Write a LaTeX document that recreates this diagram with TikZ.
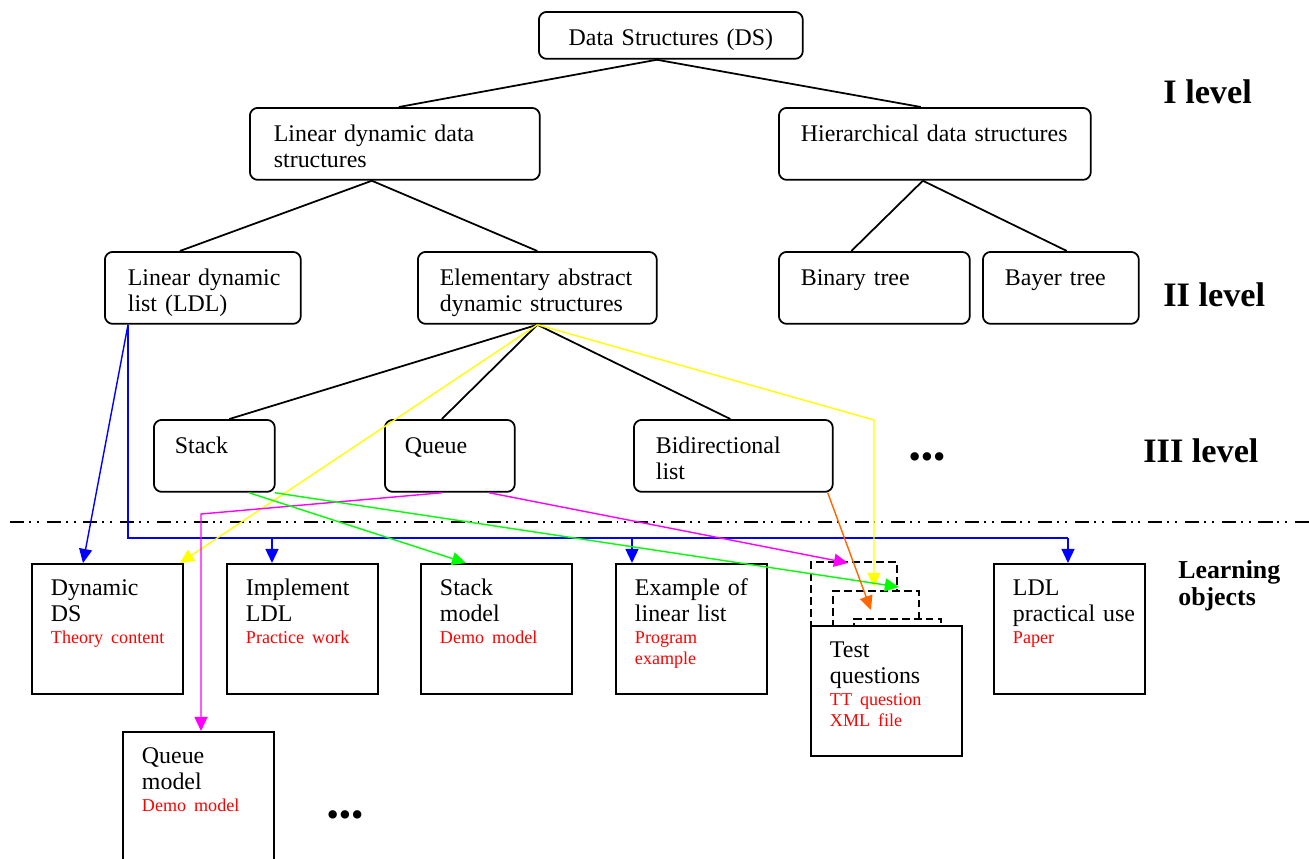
\documentclass[tikz,border=0pt]{standalone}
\usepackage{fontspec}
\setmainfont{Liberation Serif}
\usepackage{tikz}
\usetikzlibrary{arrows.meta,calc}

\definecolor{bleu}{RGB}{0,0,255}
\definecolor{jaune}{RGB}{255,255,0}
\definecolor{violet}{RGB}{255,0,255}
\definecolor{vert}{RGB}{0,255,0}
\definecolor{orangeline}{RGB}{255,102,0}
\definecolor{rouge}{RGB}{255,0,0}
\newcommand{\rouge}[1]{{\leavevmode\color{rouge}\fontsize{10.3}{12.2}\selectfont #1\par}}

\tikzset{
	theme/.style={rectangle,draw,line width=1pt,rounded corners=4.5pt,anchor=north west,inner ysep=0pt,align=left,text height=.67cm,text depth=.77cm,font=\fontsize{13.6}{14.8}\selectfont},
	objet/.style={rectangle,draw,line width=1.1pt,fill=white,anchor=north west,inner xsep=.38cm,inner ysep=0pt,align=left,text width=2.26cm,text height=.64cm,text depth=1.96cm,font=\fontsize{13.6}{14.8}\selectfont},
	page/.style={rectangle,draw,dash pattern=on 4.5pt off 2.3pt,line width=1.1pt,fill=white,anchor=north west,inner sep=0pt},
	niveau/.style={anchor=base west,inner sep=0pt,font=\fontsize{19.5}{22}\selectfont\bfseries},
	arbre/.style={line width=1pt},
	lien/.style={line width=.8pt,-{Triangle[length=8pt,width=7.4pt]}},
}

\begin{document}
\begin{tikzpicture}
	\begin{scope}[x=0.02cm,y=-0.02cm]
		\useasboundingbox (0,0) rectangle (1309,859);
		% noeuds des niveaux I, II, III
		\node (DS) at (538,11) [theme,align=center,inner xsep=0pt,text width=5.28cm,text height=.68cm,text depth=.26cm] {Data Structures (DS)};
		\node (LDDS) at (249,107) [theme,inner xsep=.48cm,text width=4.84cm] {Linear dynamic data\\structures};
		\node (HDS) at (778,107) [theme,inner xsep=.44cm,text width=5.36cm] {\mbox{Hierarchical data structures}};
		\node (LDL) at (104,251) [theme,inner xsep=.46cm,text width=3cm] {\mbox{Linear dynamic}\\list (LDL)};
		\node (EADS) at (417,251) [theme,inner xsep=.44cm,text width=3.9cm] {\mbox{Elementary abstract}\\dynamic structures};
		\node (BIN) at (778,251) [theme,inner xsep=.44cm,text width=2.94cm] {Binary tree};
		\node (BAYER) at (982,251) [theme,inner xsep=.44cm,text width=2.24cm] {Bayer tree};
		\node (STACK) at (153,419) [theme,inner xsep=.42cm,text width=1.58cm] {Stack};
		\node (QUEUE) at (384,419) [theme,inner xsep=.4cm,text width=1.8cm] {Queue};
		\node (BIDIR) at (633,419) [theme,inner xsep=.44cm,text width=3.1cm] {Bidirectional\\list};
		\node (DOTS1) at (927,461) [font=\fontsize{20}{22}\selectfont] {•••};
		% niveaux
		\node (LVL1) at (1163,103) [niveau] {I level};
		\node (LVL2) at (1163,306) [niveau] {II level};
		\node (LVL3) at (1143,462) [niveau] {III level};
		\node (LO) at (1178,578) [niveau,font=\fontsize{14.7}{15.8}\selectfont\bfseries,align=left,text width=2.5cm] {Learning\\objects};
		% separation
		\draw[line width=1.1pt,dash pattern=on 8pt off 2.8pt on 1.1pt off 3.4pt on 1.1pt off 4.5pt] (10,522) -- (1309,522);
		% objets d'apprentissage
		\node (DYNDS) at (31,563) [objet] {Dynamic\\DS\\\rouge{\mbox{Theory content}}};
		\node (IMPL) at (226,563) [objet] {Implement\\LDL\\\rouge{\mbox{Practice work}}};
		\node (STACKM) at (420,563) [objet] {Stack\\model\\\rouge{\mbox{Demo model}}};
		\node (EXAMPLE) at (615,563) [objet] {\mbox{Example of}\\linear list\\\rouge{Program\\example}};
		\node (PG1) at (810,561) [page,minimum width=1.72cm,minimum height=1.6cm] {};
		\node (PG2) at (832,590) [page,minimum width=1.72cm,minimum height=1cm] {};
		\node (PG3) at (853,618) [page,minimum width=1.74cm,minimum height=.5cm] {};
		\node (TESTQ) at (810,625) [objet] {Test\\questions\\\rouge{\mbox{TT question}\\XML file}};
		\node (LDLUSE) at (993,563) [objet] {LDL\\\mbox{practical use}\\\rouge{Paper}};
		\node (QUEUEM) at (122,731) [objet] {Queue\\model\\\rouge{\mbox{Demo model}}};
		\node (DOTS2) at (345,819) [font=\fontsize{20}{22}\selectfont] {•••};
		% aretes de l'arbre
		\draw[arbre] ($(DS.south)+(-14,0)$) -- ($(LDDS.north)+(4,0)$);
		\draw[arbre] ($(DS.south)+(-14,0)$) -- ($(HDS.north)+(-14,0)$);
		\draw[arbre] ($(LDDS.south)+(-23,0)$) -- ($(LDL.north)+(-23,0)$);
		\draw[arbre] ($(LDDS.south)+(-23,0)$) -- (EADS.north);
		\draw[arbre] ($(HDS.south)+(-12,0)$) -- ($(BIN.north)+(-23,0)$);
		\draw[arbre] ($(HDS.south)+(-12,0)$) -- ($(BAYER.north)+(6,0)$);
		\draw[arbre] (EADS.south) -- ($(STACK.north)+(15,0)$);
		\draw[arbre] (EADS.south) -- ($(QUEUE.north)+(-8,0)$);
		\draw[arbre] (EADS.south) -- ($(BIDIR.north)+(-3,0)$);
		% liens vers les objets
		\coordinate (LDLPIED) at ($(LDL.south west)+(24,0)$);
		\coordinate (B1) at ($(IMPL.north west)+(46,-25)$);
		\coordinate (B2) at ($(EXAMPLE.north west)+(17,-25)$);
		\coordinate (B3) at ($(LDLUSE.north west)+(75,-25)$);
		\draw[lien,bleu] (LDLPIED) -- ($(DYNDS.north west)+(52,0)$);
		\draw[line width=.8pt,bleu] (LDLPIED) |- (B3);
		\draw[lien,bleu] (B1) -- (B1 |- IMPL.north);
		\draw[lien,bleu] (B2) -- (B2 |- EXAMPLE.north);
		\draw[lien,bleu] (B3) -- (B3 |- LDLUSE.north);
		\coordinate (YCOUDE) at (874,420);
		\draw[lien,jaune] (EADS.south) -- ($(DYNDS.north east)+(-4,0)$);
		\draw[lien,jaune] (EADS.south) -- (YCOUDE) -- ($(PG1.north west)+(64,26)$);
		\coordinate (MCOUDE) at (201,514);
		\draw[lien,violet] ($(QUEUE.south west)+(58,0)$) -- (MCOUDE) -- (MCOUDE |- QUEUEM.north);
		\draw[lien,violet] ($(QUEUE.south west)+(105,0)$) -- ($(PG1.north west)+(38,2)$);
		\draw[lien,vert] ($(STACK.south west)+(96,0)$) -- ($(STACKM.north west)+(46,0)$);
		\draw[lien,vert] ($(STACK.south east)+(-1,0)$) -- ($(PG1.north east)+(1,26)$);
		\draw[lien,orangeline] ($(BIDIR.south east)+(-6,0)$) -- ($(PG2.north west)+(39,20)$);
	\end{scope}
\end{tikzpicture}
\end{document}
